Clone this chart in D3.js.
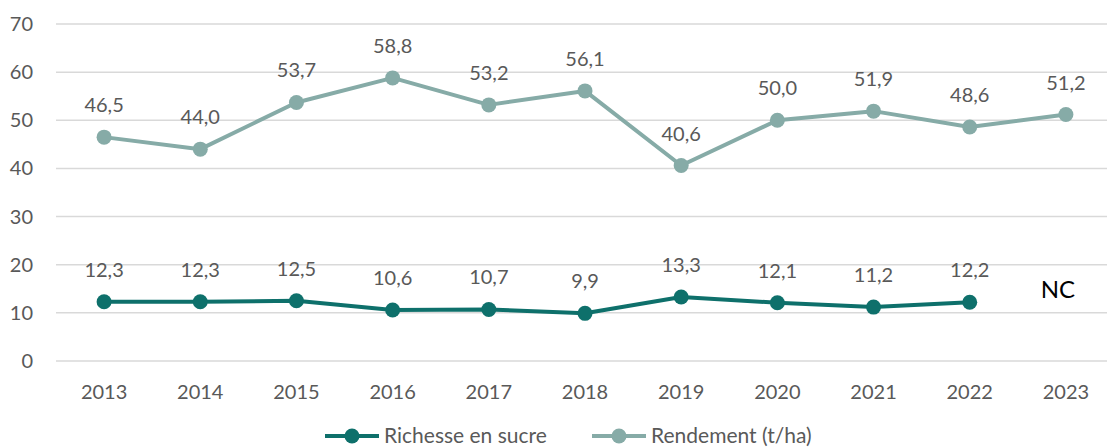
<!DOCTYPE html>
<html>
<head>
<meta charset="utf-8">
<script src="https://cdn.jsdelivr.net/npm/d3@7"></script>
<style>
  body { margin: 0; background: #fff; }
  svg { display: block; font-family: Lato, "Open Sans", sans-serif; }
</style>
</head>
<body>
<div id="chart"></div>
<script>
// données
const years = ['2013', '2014', '2015', '2016', '2017', '2018', '2019', '2020', '2021', '2022', '2023'];
const richesse = [12.3, 12.3, 12.5, 10.6, 10.7, 9.9, 13.3, 12.1, 11.2, 12.2, null];
const rendement = [46.5, 44.0, 53.7, 58.8, 53.2, 56.1, 40.6, 50.0, 51.9, 48.6, 51.2];
const yTicks = [0, 10, 20, 30, 40, 50, 60, 70];

const width = 1107, height = 448;
const series = [
  { name: 'Richesse en sucre', values: richesse, color: '#0e706b' },
  { name: 'Rendement (t/ha)', values: rendement, color: '#86aba7' }
];

const svg = d3.select('#chart')
  .append('svg')
  .attr('width', width)
  .attr('height', height);

const x = d3.scaleBand().domain(years).range([56, 1114]);
const y = d3.scaleLinear().domain([0, 70]).range([361, 24]);
const cx = d => x(d) + x.bandwidth() / 2;

// grille
svg.append('g')
  .selectAll('line')
  .data(yTicks)
  .join('line')
  .attr('x1', 56)
  .attr('x2', width)
  .attr('y1', d => y(d))
  .attr('y2', d => y(d))
  .attr('stroke', '#d9d9d9')
  .attr('stroke-width', 1.5);

// axe y
svg.append('g')
  .selectAll('text')
  .data(yTicks)
  .join('text')
  .attr('x', 33)
  .attr('y', d => y(d))
  .attr('dy', '0.35em')
  .attr('text-anchor', 'end')
  .attr('font-size', 20)
  .attr('fill', '#595959')
  .text(d => d);

// axe x
svg.append('g')
  .selectAll('text')
  .data(years)
  .join('text')
  .attr('x', d => cx(d))
  .attr('y', 399)
  .attr('text-anchor', 'middle')
  .attr('font-size', 20)
  .attr('fill', '#595959')
  .text(d => d);

const fmt = v => d3.format('.1f')(v).replace('.', ',');

series.forEach(s => {
  const pts = years.map((yr, i) => ({ yr, v: s.values[i] })).filter(p => p.v != null);
  const line = d3.line().x(p => cx(p.yr)).y(p => y(p.v));
  const g = svg.append('g');
  g.append('path')
    .datum(pts)
    .attr('d', line)
    .attr('fill', 'none')
    .attr('stroke', s.color)
    .attr('stroke-width', 4)
    .attr('stroke-linejoin', 'round');
  g.selectAll('circle')
    .data(pts)
    .join('circle')
    .attr('cx', p => cx(p.yr))
    .attr('cy', p => y(p.v))
    .attr('r', 7.5)
    .attr('fill', s.color);
  g.selectAll('text')
    .data(pts)
    .join('text')
    .attr('x', p => cx(p.yr))
    .attr('y', p => y(p.v) - 25)
    .attr('text-anchor', 'middle')
    .attr('font-size', 20)
    .attr('fill', '#595959')
    .text(p => fmt(p.v));
});

// NC pour 2023
svg.append('text')
  .attr('x', cx('2023') - 8)
  .attr('y', 298)
  .attr('text-anchor', 'middle')
  .attr('font-size', 24)
  .attr('fill', '#000')
  .text('NC');

// légende
const legendX = [325, 592];
const legend = svg.append('g')
  .selectAll('g')
  .data(series)
  .join('g')
  .attr('transform', (d, i) => `translate(${legendX[i]},436)`);
legend.append('line')
  .attr('x1', 0).attr('x2', 54)
  .attr('stroke', d => d.color)
  .attr('stroke-width', 4);
legend.append('circle')
  .attr('cx', 27)
  .attr('r', 7.5)
  .attr('fill', d => d.color);
legend.append('text')
  .attr('x', 59)
  .attr('dy', '0.33em')
  .attr('font-size', 21)
  .attr('fill', '#595959')
  .text(d => d.name);
</script>
</body>
</html>
